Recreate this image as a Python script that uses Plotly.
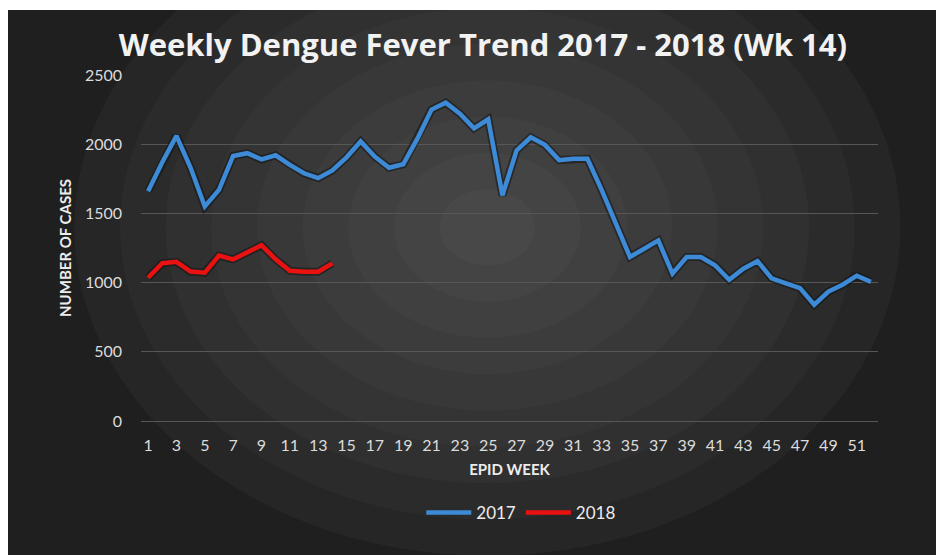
import plotly.graph_objects as go

# epid weeks
weeks_2017 = list(range(1, 53))
weeks_2018 = list(range(1, 15))

cases_2017 = [1660, 1870, 2060, 1830, 1550, 1670, 1915, 1935, 1890, 1920,
              1850, 1790, 1755, 1810, 1905, 2020, 1910, 1830, 1855, 2040,
              2250, 2300, 2220, 2115, 2180, 1630, 1955, 2050, 1995, 1885,
              1895, 1895, 1670, 1430, 1185, 1245, 1305, 1065, 1185, 1185,
              1125, 1020, 1100, 1155, 1030, 995, 960, 840, 935, 985,
              1050, 1005]
cases_2018 = [1035, 1140, 1150, 1080, 1072, 1195, 1168, 1222, 1270, 1168,
              1086, 1079, 1079, 1139]

tick_weeks = list(range(1, 53, 2))
tick_text = [str(w) for w in tick_weeks]

fig = go.Figure()

# soft radial background (concentric rings), in paper coords
ring_colors = ["#262626", "#2b2b2b", "#303030", "#343434", "#383838",
               "#3c3c3c", "#404040", "#444444", "#484848"]
cx, cy = 0.47, 0.56
for i, col in enumerate(ring_colors):
    r = 0.95 - i * 0.105
    fig.add_shape(type="circle", xref="paper", yref="paper",
                  x0=cx - r * 0.59, x1=cx + r * 0.59,
                  y0=cy - r, y1=cy + r,
                  fillcolor=col, line_width=0, layer="below")

# shadows under the lines
fig.add_trace(go.Scatter(x=weeks_2017, y=cases_2017, mode="lines",
                         line=dict(color="rgba(20,20,20,0.55)", width=8),
                         hoverinfo="skip", showlegend=False))
fig.add_trace(go.Scatter(x=weeks_2018, y=cases_2018, mode="lines",
                         line=dict(color="rgba(20,20,20,0.55)", width=8),
                         hoverinfo="skip", showlegend=False))

fig.add_trace(go.Scatter(x=weeks_2017, y=cases_2017, mode="lines", name="2017",
                         line=dict(color="#3d8ad6", width=4.5)))
fig.add_trace(go.Scatter(x=weeks_2018, y=cases_2018, mode="lines", name="2018",
                         line=dict(color="#ea1111", width=4.5)))

fig.update_layout(
    width=944, height=555,
    paper_bgcolor="#1f1f1f",
    plot_bgcolor="rgba(0,0,0,0)",
    margin=dict(l=133, r=74, t=67, b=142),
    font=dict(family="Lato", color="#d9d9d9"),
    title=dict(text="<b>Weekly Dengue Fever Trend 2017 - 2018 (Wk 14)</b>",
               x=0.503, xanchor="center", y=0.933, yanchor="middle",
               font=dict(size=31, color="#f2f2f2", family="Open Sans")),
    xaxis=dict(range=[0.5, 52.5], tickvals=tick_weeks, ticktext=tick_text,
               showgrid=False, zeroline=False, showline=False,
               tickfont=dict(size=16, color="#dcdcdc"), ticklabelstandoff=13,
               title=dict(text="<b>EPID WEEK</b>", standoff=11,
                          font=dict(size=15, color="#ececec"))),
    yaxis=dict(range=[0, 2500], dtick=500, gridcolor="#575757", gridwidth=1,
               zeroline=True, zerolinecolor="#575757", zerolinewidth=1,
               showline=False,
               tickfont=dict(size=16, color="#dcdcdc"), ticklabelstandoff=18,
               title=dict(text="<b>NUMBER OF CASES</b>", standoff=9,
                          font=dict(size=15, color="#ececec"))),
    legend=dict(orientation="h", x=0.516, xanchor="center", y=-0.266,
                yanchor="middle", font=dict(size=17, color="#ececec"),
                bgcolor="rgba(0,0,0,0)", itemwidth=45),
    showlegend=True,
)

# thin white page strip at the top
fig.add_shape(type="rect", xref="paper", yref="paper",
              x0=-1, x1=2, y0=1 + 65 / 346, y1=2,
              fillcolor="white", line_width=0, layer="above")

fig.write_html("out.html")
